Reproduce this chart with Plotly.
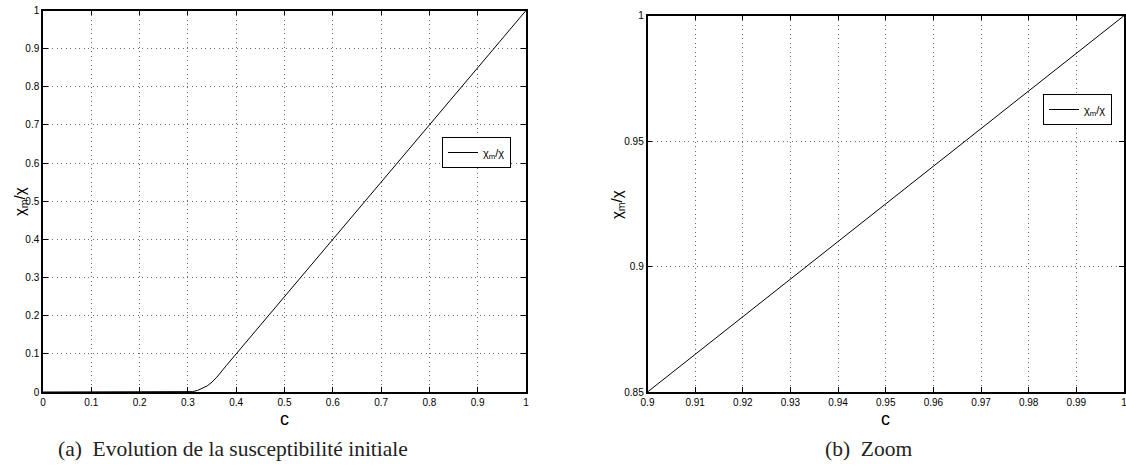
import plotly.graph_objects as go

# ---- data ----
c_full = [0.0, 0.1, 0.2, 0.3, 0.31, 0.32, 0.33, 0.34, 0.35, 0.36, 0.38, 0.40,
          0.50, 0.60, 0.70, 0.80, 0.90, 1.00]
chi_full = [0.0, 0.0, 0.0, 0.0, 0.001, 0.004, 0.009, 0.016, 0.026, 0.039, 0.070, 0.100,
            0.250, 0.400, 0.550, 0.700, 0.850, 1.000]

c_zoom = [0.90, 0.92, 0.94, 0.96, 0.98, 1.00]
chi_zoom = [0.85, 0.88, 0.91, 0.94, 0.97, 1.00]

x1_ticks = [0, 0.1, 0.2, 0.3, 0.4, 0.5, 0.6, 0.7, 0.8, 0.9, 1]
x1_labels = ["0", "0.1", "0.2", "0.3", "0.4", "0.5", "0.6", "0.7", "0.8", "0.9", "1"]
y1_ticks = x1_ticks
y1_labels = x1_labels
x2_ticks = [0.9, 0.91, 0.92, 0.93, 0.94, 0.95, 0.96, 0.97, 0.98, 0.99, 1.0]
x2_labels = ["0.9", "0.91", "0.92", "0.93", "0.94", "0.95", "0.96", "0.97", "0.98", "0.99", "1"]
y2_ticks = [0.85, 0.9, 0.95, 1.0]
y2_labels = ["0.85", "0.9", "0.95", "1"]

series_name = "χ<sub>m</sub>/χ"
caption_a = "(a)  Evolution de la susceptibilité initiale"
caption_b = "(b)  Zoom"

W, H = 1126, 471
SANS = "Liberation Sans, Arial, Helvetica, sans-serif"
SERIF = "Liberation Serif, Times New Roman, serif"

fig = go.Figure()
fig.add_trace(go.Scatter(x=c_full, y=chi_full, mode="lines", name=series_name,
                         line=dict(color="black", width=1), xaxis="x", yaxis="y",
                         legend="legend"))
fig.add_trace(go.Scatter(x=c_zoom, y=chi_zoom, mode="lines", name=series_name,
                         line=dict(color="black", width=1), xaxis="x2", yaxis="y2",
                         legend="legend2"))

def ax(rng, ticks, labels, dom, fs, **kw):
    d = dict(range=rng, tickvals=ticks, ticktext=labels, domain=dom,
             showline=True, linecolor="black", linewidth=1.5, mirror="ticks",
             ticks="inside", ticklen=5, tickcolor="black", tickwidth=1,
             showgrid=True, gridcolor="#6a6a6a", gridwidth=1, griddash="1px,3.5px",
             zeroline=False, automargin=False, ticklabeloverflow="allow",
             tickfont=dict(family=SANS, size=fs, color="black"))
    d.update(kw)
    return d

fig.update_layout(
    width=W, height=H,
    margin=dict(l=0, r=0, t=0, b=0, autoexpand=False),
    paper_bgcolor="white", plot_bgcolor="white",
    showlegend=True,
    xaxis=ax([0, 1], x1_ticks, x1_labels, [43 / W, 526 / W], 10, anchor="y"),
    yaxis=ax([0, 1], y1_ticks, y1_labels, [(H - 392) / H, (H - 10.5) / H], 10, anchor="x"),
    xaxis2=ax([0.9, 1.0], x2_ticks, x2_labels, [647.5 / W, 1124 / W], 10, anchor="y2"),
    yaxis2=ax([0.85, 1.0], y2_ticks, y2_labels, [(H - 392) / H, (H - 15.7) / H], 10, anchor="x2"),
    legend=dict(x=442 / W, y=(H - 137) / H, xanchor="left", yanchor="top",
                bgcolor="white", bordercolor="black", borderwidth=1,
                font=dict(family=SANS, size=11, color="black"),
                itemwidth=30, tracegroupgap=0),
    legend2=dict(x=1043 / W, y=(H - 94) / H, xanchor="left", yanchor="top",
                 bgcolor="white", bordercolor="black", borderwidth=1,
                 font=dict(family=SANS, size=11, color="black"),
                 itemwidth=30, tracegroupgap=0),
)

annots = [
    dict(text="c", x=284.5 / W, y=(H - 407) / H, yanchor="top",
         font=dict(family=SANS, size=18, color="black")),
    dict(text="c", x=885.5 / W, y=(H - 407) / H, yanchor="top",
         font=dict(family=SANS, size=18, color="black")),
    dict(text=series_name, x=20 / W, y=(H - 202) / H, textangle=-90,
         font=dict(family=SANS, size=15, color="black")),
    dict(text=series_name, x=617 / W, y=(H - 205) / H, textangle=-90,
         font=dict(family=SANS, size=15, color="black")),
    dict(text=caption_a, x=232.5 / W, y=(H - 449) / H,
         font=dict(family=SERIF, size=21.5, color="#222")),
    dict(text=caption_b, x=868 / W, y=(H - 449) / H,
         font=dict(family=SERIF, size=21.5, color="#222")),
]
for a in annots:
    a.setdefault("yanchor", "middle")
    a.update(xref="paper", yref="paper", showarrow=False, xanchor="center")
fig.update_layout(annotations=annots)

fig.write_html("out.html", config={"displayModeBar": False},
               post_script="document.body.style.margin='0';")
